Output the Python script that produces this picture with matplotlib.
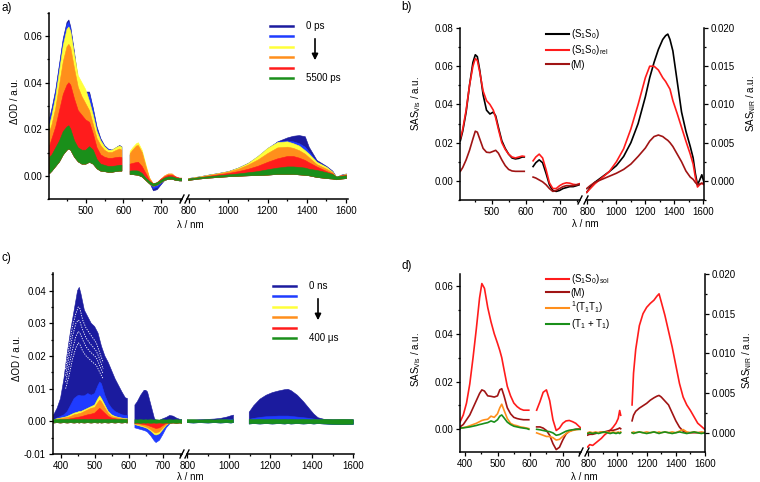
import numpy as np
import matplotlib
matplotlib.use('Agg')
import matplotlib.pyplot as plt
from matplotlib.ticker import MultipleLocator, FormatStrFormatter
from matplotlib.lines import Line2D

plt.rcParams['font.family'] = ['Liberation Sans', 'DejaVu Sans']
plt.rcParams['mathtext.fontset'] = 'custom'
plt.rcParams['mathtext.rm'] = 'Liberation Sans'
plt.rcParams['mathtext.it'] = 'Liberation Sans:italic'
plt.rcParams['mathtext.bf'] = 'Liberation Sans:bold'
plt.rcParams['font.size'] = 7

nan = np.nan

NAVY = '#1b1b9e'
BLUE = '#1f3cff'
YELLOW = '#ffff3a'
ORANGE = '#ff8f1c'
RED = '#ff1c1c'
GREEN = '#1a8f1a'
DKRED = '#a01414'

# ---------------- panel a : ps transient absorption ----------------
a_wl_vis = [404, 410, 420, 430, 440, 450, 455, 460, 470, 480, 490, 500, 510, 520, 530, 540, 550, 560, 570, 580, 590, 596, nan,
            618, 625, 635, 640, 650, 660, 670, 680, 690, 700, 710, 720, 730, 740, 750, 756]
a_navy_vis = [0.025, 0.029, 0.037, 0.048, 0.059, 0.066, 0.067, 0.064, 0.053, 0.041, 0.037, 0.036, 0.036, 0.029, 0.021, 0.016, 0.013, 0.0115, 0.011, 0.012, 0.013, 0.0125, nan,
              0.009, 0.010, 0.012, 0.0125, 0.010, 0.004, -0.003, -0.0065, -0.006, -0.004, -0.002, -0.0015, -0.0015, -0.002, -0.0022, -0.0022]
a_blue_vis = [0.024, 0.028, 0.036, 0.047, 0.058, 0.065, 0.066, 0.063, 0.052, 0.041, 0.037, 0.036, 0.035, 0.028, 0.020, 0.0155, 0.0128, 0.0113, 0.011, 0.0118, 0.0128, 0.0123, nan,
              0.009, 0.010, 0.012, 0.0125, 0.010, 0.004, -0.0025, -0.0055, -0.005, -0.0035, -0.0018, -0.0012, -0.0012, -0.0018, -0.002, -0.002]
a_yellow_vis = [0.022, 0.026, 0.034, 0.045, 0.056, 0.063, 0.064, 0.062, 0.052, 0.043, 0.040, 0.037, 0.032, 0.026, 0.019, 0.015, 0.0125, 0.011, 0.011, 0.012, 0.0128, 0.0123, nan,
                0.0105, 0.012, 0.0138, 0.0142, 0.011, 0.005, -0.001, -0.004, -0.0035, -0.002, -0.0005, 0.000, 0.0002, -0.001, -0.0015, -0.0015]
a_orange_vis = [0.019, 0.022, 0.029, 0.039, 0.049, 0.0555, 0.0565, 0.055, 0.046, 0.038, 0.034, 0.031, 0.028, 0.022, 0.016, 0.013, 0.011, 0.010, 0.010, 0.0108, 0.0115, 0.011, nan,
                0.0095, 0.011, 0.0128, 0.013, 0.010, 0.004, -0.001, -0.0035, -0.003, -0.0015, 0.000, 0.0008, 0.0008, -0.0005, -0.0012, -0.0012]
a_red_vis = [0.013, 0.016, 0.021, 0.028, 0.035, 0.039, 0.040, 0.039, 0.033, 0.028, 0.026, 0.024, 0.023, 0.018, 0.012, 0.009, 0.008, 0.0075, 0.0075, 0.0078, 0.008, 0.0078, nan,
             0.005, 0.0053, 0.0057, 0.0058, 0.004, 0.001, -0.002, -0.0035, -0.003, -0.0015, -0.0005, 0.0002, 0.0002, -0.0005, -0.001, -0.001]
a_green_hi_vis = [0.008, 0.009, 0.012, 0.015, 0.019, 0.021, 0.0215, 0.020, 0.015, 0.012, 0.011, 0.011, 0.0125, 0.011, 0.007, 0.005, 0.0045, 0.004, 0.004, 0.0042, 0.0045, 0.0045, nan,
                  0.002, 0.0021, 0.0021, 0.002, 0.001, -0.001, -0.0025, -0.0035, -0.003, -0.002, -0.001, -0.0005, -0.0005, -0.001, -0.0012, -0.0012]
a_green_lo_vis = [0.001, 0.002, 0.004, 0.006, 0.009, 0.011, 0.0115, 0.011, 0.008, 0.006, 0.005, 0.005, 0.0058, 0.005, 0.003, 0.002, 0.0018, 0.0015, 0.0015, 0.0018, 0.002, 0.002, nan,
                  0.0005, 0.0005, 0.0003, 0.0002, -0.0005, -0.002, -0.0035, -0.0045, -0.004, -0.003, -0.002, -0.0015, -0.0015, -0.002, -0.0022, -0.0022]

a_wl_nir = [795, 850, 900, 950, 1000, 1050, 1100, 1150, 1200, 1250, 1300, 1330, 1360, 1390, 1410, 1450, 1500, 1530, 1550, 1575, 1600]
a_navy_nir = [-0.001, -0.0003, 0.0005, 0.0012, 0.002, 0.0035, 0.0055, 0.008, 0.0115, 0.0148, 0.0165, 0.0172, 0.0175, 0.017, 0.0125, 0.0068, 0.0042, 0.0022, -0.0005, 0.0005, 0.001]
a_blue_nir = [-0.001, -0.0003, 0.0005, 0.0012, 0.002, 0.0035, 0.0055, 0.0085, 0.012, 0.0147, 0.0152, 0.0148, 0.014, 0.0125, 0.0105, 0.0062, 0.0039, 0.0019, -0.0005, 0.0004, 0.0008]
a_yellow_nir = [-0.001, -0.0003, 0.0005, 0.0012, 0.002, 0.0035, 0.0055, 0.0085, 0.012, 0.0145, 0.0148, 0.014, 0.013, 0.011, 0.0095, 0.006, 0.0038, 0.0018, -0.0005, 0.0004, 0.0008]
a_orange_nir = [-0.0012, -0.0005, 0.0003, 0.001, 0.0018, 0.003, 0.0048, 0.007, 0.0098, 0.0122, 0.0125, 0.012, 0.011, 0.0095, 0.008, 0.005, 0.003, 0.0015, -0.0005, 0.0003, 0.0006]
a_red_nir = [-0.0012, -0.0006, 0.0, 0.0006, 0.0012, 0.002, 0.003, 0.0043, 0.006, 0.0075, 0.0085, 0.0085, 0.0078, 0.0068, 0.0058, 0.004, 0.002, 0.001, -0.0005, 0.0002, 0.0005]
a_green_hi_nir = [-0.0012, -0.0006, -0.0002, 0.0002, 0.0006, 0.001, 0.0015, 0.002, 0.0028, 0.0035, 0.004, 0.004, 0.0038, 0.0035, 0.003, 0.0025, 0.0015, 0.0008, -0.0003, 0.0, 0.0002]
a_green_lo_nir = [-0.0018, -0.0012, -0.0008, -0.0005, -0.0002, 0.0, 0.0002, 0.0003, 0.0005, 0.0008, 0.0008, 0.0008, 0.0006, 0.0004, 0.0002, -0.0005, -0.001, -0.0012, -0.0015, -0.0012, -0.001]

# ---------------- panel b : species associated spectra (ps) ----------------
b_wl_vis = [408, 415, 425, 435, 445, 452, 458, 465, 475, 485, 495, 505, 512, 520, 530, 540, 550, 560, 570, 580, 590, 596, nan,
            622, 630, 640, 650, 660, 670, 680, 690, 700, 710, 720, 730, 740, 750, 758]
b_s1s0_vis = [0.021, 0.026, 0.036, 0.050, 0.062, 0.066, 0.065, 0.058, 0.045, 0.037, 0.035, 0.036, 0.034, 0.028, 0.021, 0.017, 0.014, 0.012, 0.0115, 0.0118, 0.0125, 0.0125, nan,
              0.0075, 0.0095, 0.011, 0.0095, 0.004, -0.002, -0.005, -0.0055, -0.005, -0.004, -0.0035, -0.003, -0.003, -0.0025, -0.002]
b_rel_vis = [0.022, 0.027, 0.037, 0.050, 0.060, 0.064, 0.063, 0.057, 0.047, 0.042, 0.040, 0.037, 0.033, 0.027, 0.020, 0.0165, 0.014, 0.0125, 0.012, 0.0125, 0.013, 0.0128, nan,
             0.0105, 0.0125, 0.014, 0.012, 0.006, -0.001, -0.004, -0.004, -0.0025, -0.0015, -0.001, -0.0012, -0.0018, -0.002, -0.0015]
b_m_vis = [0.005, 0.007, 0.011, 0.016, 0.022, 0.026, 0.0255, 0.022, 0.017, 0.015, 0.0148, 0.0155, 0.016, 0.0145, 0.011, 0.008, 0.006, 0.0052, 0.005, 0.005, 0.005, 0.005, nan,
           0.002, 0.0015, 0.0005, -0.0005, -0.002, -0.004, -0.0055, -0.005, -0.004, -0.003, -0.0025, -0.0025, -0.0025, -0.002, -0.0018]

b_wl_nir = [795, 820, 850, 900, 950, 1000, 1050, 1100, 1150, 1200, 1230, 1260, 1290, 1320, 1340, 1355, 1370, 1390, 1420, 1450, 1480, 1510, 1530, 1545, 1560, 1575, 1590, 1605]
b_s1s0_nir = [-0.0015, -0.0008, -0.0002, 0.0005, 0.0012, 0.002, 0.0032, 0.005, 0.0075, 0.011, 0.0135, 0.0155, 0.0172, 0.0185, 0.019, 0.0192, 0.0185, 0.017, 0.013, 0.009, 0.0065, 0.0045, 0.003, 0.001, -0.0005, 0.0001, 0.0008, -0.0002]
b_rel_nir = [-0.0015, -0.001, -0.0004, 0.0004, 0.0012, 0.0025, 0.0042, 0.0068, 0.010, 0.0135, 0.015, 0.015, 0.0145, 0.0135, 0.013, 0.0125, 0.012, 0.0105, 0.0088, 0.007, 0.0052, 0.0035, 0.0022, 0.0005, -0.0008, -0.0005, -0.0003, -0.0005]
b_m_nir = [-0.001, -0.0006, -0.0002, 0.0002, 0.0006, 0.001, 0.0015, 0.0022, 0.0032, 0.0043, 0.0052, 0.0058, 0.006, 0.0058, 0.0055, 0.0053, 0.005, 0.0045, 0.0035, 0.0025, 0.0013, 0.0005, 0.0002, -0.0002, -0.0005, -0.0004, -0.0003, -0.0004]

# ---------------- panel c : ns-us transient absorption ----------------
c_wl_vis = [380, 390, 400, 410, 420, 430, 440, 450, 455, 460, 470, 480, 490, 500, 510, 515, 520, 530, 540, 550, 560, 570, 580, 590, 596, nan,
            618, 625, 635, 645, 650, 655, 665, 675, 680, 690, 700, 710, 720, 730, 740, 750, 756]
c_navy_vis = [0.002, 0.004, 0.007, 0.013, 0.021, 0.028, 0.034, 0.040, 0.041, 0.039, 0.034, 0.032, 0.030, 0.029, 0.027, 0.025, 0.023, 0.020, 0.018, 0.0155, 0.013, 0.011, 0.009, 0.0072, 0.007, nan,
              0.005, 0.006, 0.008, 0.0095, 0.0095, 0.009, 0.005, 0.001, 0.0002, 0.0003, 0.0008, 0.0012, 0.0018, 0.0016, 0.001, 0.0006, 0.0005]
c_blue_vis = [0.0005, 0.001, 0.0015, 0.002, 0.003, 0.005, 0.007, 0.0078, 0.008, 0.0078, 0.0078, 0.0085, 0.008, 0.0085, 0.011, 0.012, 0.0115, 0.008, 0.0055, 0.004, 0.003, 0.0025, 0.002, 0.0018, 0.0018, nan,
              -0.002, -0.0022, -0.0025, -0.0028, -0.003, -0.0033, -0.0045, -0.006, -0.0065, -0.0058, -0.004, -0.002, -0.0008, -0.0004, -0.0003, -0.0002, -0.0002]
c_yellow_vis = [0.0005, 0.0008, 0.001, 0.0012, 0.0015, 0.002, 0.0025, 0.0028, 0.003, 0.003, 0.0035, 0.004, 0.0045, 0.005, 0.007, 0.0078, 0.007, 0.005, 0.003, 0.002, 0.0015, 0.0012, 0.001, 0.0008, 0.0008, nan,
                -0.001, -0.0012, -0.0015, -0.0018, -0.002, -0.0022, -0.003, -0.004, -0.0042, -0.0038, -0.0025, -0.0012, -0.0005, -0.0002, -0.0001, 0.0, 0.0]
c_orange_vis = [0.0004, 0.0006, 0.0008, 0.001, 0.0012, 0.0015, 0.002, 0.0022, 0.0024, 0.0025, 0.003, 0.0035, 0.004, 0.0042, 0.0058, 0.0065, 0.006, 0.0042, 0.0025, 0.0015, 0.0012, 0.001, 0.0008, 0.0006, 0.0006, nan,
                -0.0008, -0.001, -0.0012, -0.0015, -0.0017, -0.0019, -0.0026, -0.0034, -0.0036, -0.0032, -0.002, -0.001, -0.0004, -0.0002, -0.0001, 0.0, 0.0]
c_red_vis = [0.0002, 0.0003, 0.0004, 0.0005, 0.0006, 0.0008, 0.001, 0.0012, 0.0013, 0.0014, 0.0017, 0.002, 0.0022, 0.0025, 0.0035, 0.004, 0.0035, 0.0025, 0.0015, 0.001, 0.0008, 0.0006, 0.0005, 0.0004, 0.0004, nan,
             -0.0005, -0.0006, -0.0008, -0.001, -0.0011, -0.0012, -0.0016, -0.002, -0.0022, -0.002, -0.0013, -0.0006, -0.0003, -0.0001, 0.0, 0.0, 0.0]
c_green_hi_vis = [0.0006, 0.0005, 0.0006, 0.0005, 0.0006, 0.0005, 0.0006, 0.0005, 0.0006, 0.0005, 0.0006, 0.0005, 0.0006, 0.0005, 0.0006, 0.0005, 0.0006, 0.0005, 0.0006, 0.0005, 0.0006, 0.0005, 0.0006, 0.0005, 0.0006, nan,
                  0.0005, 0.0004, 0.0005, 0.0004, 0.0005, 0.0004, 0.0005, 0.0004, 0.0005, 0.0004, 0.0005, 0.0004, 0.0005, 0.0004, 0.0005, 0.0004, 0.0005]
c_green_lo_vis = [-0.0005, -0.0004, -0.0005, -0.0004, -0.0005, -0.0004, -0.0005, -0.0004, -0.0005, -0.0004, -0.0005, -0.0004, -0.0005, -0.0004, -0.0005, -0.0004, -0.0005, -0.0004, -0.0005, -0.0004, -0.0005, -0.0004, -0.0005, -0.0004, -0.0005, nan,
                  -0.0006, -0.0005, -0.0006, -0.0005, -0.0006, -0.0005, -0.0006, -0.0005, -0.0006, -0.0005, -0.0006, -0.0005, -0.0006, -0.0005, -0.0006, -0.0005, -0.0006]
# a few intermediate early spectra (gaps between them show as white streaks)
c_wl_mid = [415, 425, 435, 445, 452, 457, 465, 475, 485, 495, 505, 515, 525]
c_mid1 = [0.016, 0.023, 0.029, 0.033, 0.035, 0.0345, 0.031, 0.0285, 0.027, 0.0255, 0.024, 0.021, 0.018]
c_mid2 = [0.014, 0.020, 0.026, 0.030, 0.031, 0.0305, 0.028, 0.0255, 0.024, 0.0228, 0.0215, 0.019, 0.016]
c_mid3 = [0.012, 0.017, 0.022, 0.026, 0.0275, 0.027, 0.025, 0.0228, 0.0215, 0.0205, 0.0195, 0.017, 0.0145]
c_mid4 = [0.010, 0.014, 0.019, 0.0225, 0.024, 0.0235, 0.0215, 0.020, 0.019, 0.018, 0.0172, 0.015, 0.013]

c_wl_nir = [798, 830, 860, 900, 930, 960, 990, 1010, 1022, nan,
            1098, 1120, 1150, 1180, 1210, 1240, 1270, 1285, 1300, 1330, 1360, 1390, 1410, 1430, 1460, 1500, 1550, 1600]
c_navy_nir = [0.0004, 0.0004, 0.0005, 0.0006, 0.0007, 0.0009, 0.0013, 0.0017, 0.0019, nan,
              0.0028, 0.0048, 0.0068, 0.008, 0.0088, 0.0093, 0.0097, 0.0098, 0.0094, 0.008, 0.006, 0.0037, 0.0022, 0.0011, 0.0006, 0.0005, 0.0005, 0.0005]
c_blue_nir = [0.0002, 0.0002, 0.0002, 0.0003, 0.0003, 0.0004, 0.0005, 0.0006, 0.0006, nan,
              0.0006, 0.0009, 0.0012, 0.0014, 0.0015, 0.0016, 0.0016, 0.0016, 0.0015, 0.0013, 0.0011, 0.0009, 0.0007, 0.0005, 0.0004, 0.0003, 0.0003, 0.0003]
c_green_hi_nir = [0.0005, 0.0005, 0.0004, 0.0005, 0.0004, 0.0005, 0.0005, 0.0004, 0.0005, nan,
                  0.0006, 0.0005, 0.0006, 0.0005, 0.0006, 0.0005, 0.0006, 0.0005, 0.0006, 0.0005, 0.0006, 0.0005, 0.0006, 0.0005, 0.0006, 0.0005, 0.0006, 0.0005]
c_green_lo_nir = [-0.0004, -0.0005, -0.0004, -0.0005, -0.0004, -0.0005, -0.0004, -0.0005, -0.0004, nan,
                  -0.0008, -0.0007, -0.0008, -0.0007, -0.0008, -0.0007, -0.0008, -0.0007, -0.0008, -0.0007, -0.0008, -0.0007, -0.0008, -0.0007, -0.0008, -0.0009, -0.001, -0.0009]

# ---------------- panel d : species associated spectra (ns-us) ----------------
d_wl_vis = [385, 395, 405, 415, 425, 435, 445, 452, 460, 470, 480, 490, 500, 507, 513, 520, 530, 540, 550, 560, 570, 580, 590, 596, nan,
            620, 630, 640, 650, 660, 670, 680, 690, 700, 710, 720, 730, 740, 750, 756]
d_sol_vis = [0.003, 0.006, 0.011, 0.019, 0.030, 0.042, 0.055, 0.061, 0.059, 0.051, 0.045, 0.040, 0.036, 0.033, 0.030, 0.025, 0.018, 0.014, 0.011, 0.0095, 0.0085, 0.008, 0.008, 0.008, nan,
             0.008, 0.0115, 0.0155, 0.0165, 0.012, 0.004, -0.0005, 0.0005, 0.0025, 0.0035, 0.0037, 0.0032, 0.0025, 0.0012, 0.0005]
d_m_vis = [0.001, 0.002, 0.004, 0.006, 0.009, 0.012, 0.015, 0.0165, 0.016, 0.014, 0.0138, 0.0135, 0.014, 0.0165, 0.017, 0.014, 0.009, 0.0065, 0.005, 0.0045, 0.0042, 0.004, 0.004, 0.004, nan,
           0.001, 0.001, 0.0005, -0.0005, -0.0025, -0.006, -0.0085, -0.0075, -0.0045, -0.002, -0.0008, -0.0003, 0.0, 0.0002, 0.0002]
d_tt_vis = [0.0005, 0.0007, 0.001, 0.0015, 0.002, 0.0025, 0.0032, 0.0037, 0.004, 0.0042, 0.0055, 0.005, 0.0065, 0.009, 0.0105, 0.008, 0.0045, 0.0025, 0.0018, 0.0015, 0.001, 0.0008, 0.0005, 0.0003, nan,
            -0.0015, -0.002, -0.0025, -0.003, -0.003, -0.0035, -0.0045, -0.0042, -0.003, -0.0018, -0.001, -0.0005, -0.0002, 0.0, 0.0]
d_t1_vis = [0.0005, 0.0006, 0.0008, 0.001, 0.0013, 0.0016, 0.002, 0.0022, 0.0025, 0.0028, 0.0035, 0.003, 0.004, 0.0055, 0.006, 0.0048, 0.003, 0.002, 0.0013, 0.001, 0.0007, 0.0005, 0.0003, 0.0, nan,
            0.0, -0.0002, -0.0005, -0.0008, -0.001, -0.0015, -0.0025, -0.0022, -0.0015, -0.0008, -0.0004, -0.0002, 0.0, 0.0, 0.0]

d_wl_nir = [795, 810, 830, 850, 870, 890, 910, 930, 950, 970, 990, 1005, 1015, 1022, nan,
            1100, 1110, 1125, 1150, 1175, 1200, 1225, 1250, 1270, 1285, 1300, 1325, 1350, 1375, 1400, 1425, 1450, 1475, 1500, 1525, 1550, 1575, 1600]
d_sol_nir = [-0.0018, -0.0015, -0.0016, -0.0013, -0.001, -0.0007, -0.0003, 0.0, 0.0003, 0.0007, 0.0012, 0.0018, 0.0028, 0.0022, nan,
             0.0035, 0.0075, 0.0105, 0.0135, 0.015, 0.0158, 0.0163, 0.0167, 0.0172, 0.0175, 0.0165, 0.0148, 0.0128, 0.0108, 0.0085, 0.0062, 0.0045, 0.0035, 0.0028, 0.002, 0.0012, 0.0008, 0.0004]
d_m_nir = [-0.0003, -0.0002, -0.0002, -0.0001, 0.0, 0.0001, 0.0001, 0.0002, 0.0003, 0.0003, 0.0004, 0.0005, 0.0006, 0.0005, nan,
           0.0015, 0.0022, 0.0027, 0.0031, 0.0034, 0.0037, 0.0041, 0.0044, 0.0046, 0.0047, 0.0045, 0.004, 0.0035, 0.0025, 0.0015, 0.0007, 0.0002, 0.0, 0.0, 0.0, 0.0, 0.0, 0.0]
d_tt_nir = [0.0, 0.0001, 0.0, 0.0001, 0.0, 0.0001, 0.0, 0.0001, 0.0, 0.0001, 0.0, 0.0001, 0.0, 0.0001, nan,
            0.0, 0.0001, 0.0, 0.0001, 0.0, 0.0001, 0.0, 0.0001, 0.0, 0.0001, 0.0, 0.0001, 0.0, 0.0001, 0.0, 0.0002, 0.0004, 0.0001, 0.0, 0.0001, 0.0, 0.0001, 0.0]
d_t1_nir = [-0.0001, 0.0, -0.0001, 0.0, -0.0001, 0.0, 0.0001, 0.0, -0.0001, 0.0, -0.0001, 0.0, -0.0001, 0.0, nan,
            0.0, -0.0001, 0.0, 0.0001, 0.0, -0.0001, 0.0, 0.0001, 0.0, -0.0001, 0.0, 0.0001, 0.0, -0.0001, 0.0, 0.0001, 0.0, -0.0001, 0.0, 0.0001, 0.0, -0.0001, 0.0]

W, H = 760, 482
fig = plt.figure(figsize=(W / 100, H / 100), dpi=100)


def rect(x0, x1, y0, y1):
    # pixel box (top-left origin) -> figure fraction
    return [x0 / W, 1 - y1 / H, (x1 - x0) / W, (y1 - y0) / H]


def panel(lx, rx, y0, y1, xlim_l, xlim_r, ylim_l, ylim_r=None, left_fmt='%.2f', right_fmt='%.3f',
          ymaj=0.02, ymin=0.01, ymaj_r=0.005, ymin_r=0.0025):
    axl = fig.add_axes(rect(lx[0], lx[1], y0, y1))
    axr = fig.add_axes(rect(rx[0], rx[1], y0, y1))
    axl.set_xlim(xlim_l)
    axr.set_xlim(xlim_r)
    axl.set_ylim(ylim_l)
    axr.set_ylim(ylim_r if ylim_r else ylim_l)
    for ax in (axl, axr):
        ax.patch.set_alpha(0)
        ax.spines['top'].set_visible(False)
        for s in ax.spines.values():
            s.set_linewidth(1.1)
        ax.tick_params(which='both', direction='out', labelsize=7, width=0.9, pad=2)
        ax.tick_params(which='major', length=3)
        ax.tick_params(which='minor', length=1.6)
    axl.spines['right'].set_visible(False)
    axr.spines['left'].set_visible(False)
    axl.xaxis.set_major_locator(MultipleLocator(100))
    axl.xaxis.set_minor_locator(MultipleLocator(50))
    axr.xaxis.set_major_locator(MultipleLocator(200))
    axr.xaxis.set_minor_locator(MultipleLocator(100))
    axl.yaxis.set_major_locator(MultipleLocator(ymaj))
    axl.yaxis.set_minor_locator(MultipleLocator(ymin))
    axl.yaxis.set_major_formatter(FormatStrFormatter(left_fmt))
    if ylim_r is None:
        axr.spines['right'].set_visible(False)
        axr.tick_params(axis='y', which='both', left=False, right=False, labelleft=False)
    else:
        axr.yaxis.tick_right()
        axr.yaxis.set_major_locator(MultipleLocator(ymaj_r))
        axr.yaxis.set_minor_locator(MultipleLocator(ymin_r))
        axr.yaxis.set_major_formatter(FormatStrFormatter(right_fmt))
    # axis break marks
    for x in (lx[1], rx[0]):
        fig.add_artist(Line2D([(x - 2) / W, (x + 2) / W], [1 - (y1 + 4) / H, 1 - (y1 - 4) / H],
                              color='k', lw=1.0))
    return axl, axr


def bands(ax, wl, series, base):
    for color, y in series:
        ax.fill_between(wl, y, base, color=color, lw=0.4, edgecolor=color)


def ladder_legend(ax, x, y, first, last):
    cols = [NAVY, BLUE, YELLOW, ORANGE, RED, GREEN]
    handles = [Line2D([], [], color=c, lw=1.8) for c in cols]
    labels = [first, ' ', ' ', ' ', ' ', last]
    ax.legend(handles, labels, loc='upper left', bbox_to_anchor=(x / W, 1 - y / H),
              bbox_transform=fig.transFigure, frameon=False, borderpad=0, borderaxespad=0,
              handlelength=2.4, handletextpad=1.3, labelspacing=0.05, fontsize=7)


# ---- a)
ax_al, ax_ar = panel((49, 182), (187, 348), 13, 199, (402, 756), (790, 1610), (-0.01, 0.07))
bands(ax_al, a_wl_vis, [(NAVY, a_navy_vis), (BLUE, a_blue_vis), (YELLOW, a_yellow_vis),
                        (ORANGE, a_orange_vis), (RED, a_red_vis), (GREEN, a_green_hi_vis)], a_green_lo_vis)
bands(ax_ar, a_wl_nir, [(NAVY, a_navy_nir), (BLUE, a_blue_nir), (YELLOW, a_yellow_nir),
                        (ORANGE, a_orange_nir), (RED, a_red_nir), (GREEN, a_green_hi_nir)], a_green_lo_nir)
ladder_legend(ax_ar, 270, 21, '0 ps', '5500 ps')
fig.add_artist(matplotlib.patches.FancyArrowPatch((315 / W, 1 - 36 / H), (315 / W, 1 - 63 / H),
                                                  transform=fig.transFigure, arrowstyle='-|>',
                                                  mutation_scale=9, color='k', lw=1.2))

# ---- b)
ax_bl, ax_br = panel((460, 580), (586, 704), 28, 200, (407, 760), (790, 1605), (-0.01, 0.08), (-0.0025, 0.02))
for y_vis, y_nir, c in [(b_s1s0_vis, b_s1s0_nir, 'black'), (b_rel_vis, b_rel_nir, RED), (b_m_vis, b_m_nir, DKRED)]:
    ax_bl.plot(b_wl_vis, y_vis, color=c, lw=1.2)
    ax_br.plot(b_wl_nir, y_nir, color=c, lw=1.2)
hb = [Line2D([], [], color=c, lw=1.5) for c in ('black', RED, DKRED)]
ax_br.legend(hb, [r'(S$_1$S$_0$)', r'(S$_1$S$_0$)$_{\mathrm{rel}}$', '(M)'], loc='upper left',
             bbox_to_anchor=(546 / W, 1 - 27 / H), bbox_transform=fig.transFigure, frameon=False,
             borderpad=0, borderaxespad=0, handlelength=2.35, handletextpad=0.2, labelspacing=0.25, fontsize=7)

# ---- c)
ax_cl, ax_cr = panel((53, 182), (187, 354), 273, 454, (378, 756), (798, 1603), (-0.01, 0.0454),
                     ymaj=0.01, ymin=0.005)
bands(ax_cl, c_wl_vis, [(NAVY, c_navy_vis)], c_green_lo_vis)
for y_mid in (c_mid1, c_mid2, c_mid3, c_mid4):
    ax_cl.plot(c_wl_mid, y_mid, color='white', lw=0.6, ls=(0, (1.5, 1.5)))
bands(ax_cl, c_wl_vis, [(BLUE, c_blue_vis), (YELLOW, c_yellow_vis), (ORANGE, c_orange_vis),
                        (RED, c_red_vis), (GREEN, c_green_hi_vis)], c_green_lo_vis)
bands(ax_cr, c_wl_nir, [(NAVY, c_navy_nir), (BLUE, c_blue_nir), (GREEN, c_green_hi_nir)], c_green_lo_nir)
ladder_legend(ax_cr, 273, 281, '0 ns', '400 μs')
fig.add_artist(matplotlib.patches.FancyArrowPatch((318 / W, 1 - 296 / H), (318 / W, 1 - 323 / H),
                                                  transform=fig.transFigure, arrowstyle='-|>',
                                                  mutation_scale=9, color='k', lw=1.2))

# ---- d)
ax_dl, ax_dr = panel((460, 581), (587, 705), 274, 452, (385, 756), (791, 1600), (-0.0095, 0.065), (-0.00243, 0.02))
for y_vis, y_nir, c in [(d_sol_vis, d_sol_nir, RED), (d_m_vis, d_m_nir, DKRED),
                        (d_tt_vis, d_tt_nir, ORANGE), (d_t1_vis, d_t1_nir, GREEN)]:
    ax_dl.plot(d_wl_vis, y_vis, color=c, lw=1.2)
    ax_dr.plot(d_wl_nir, y_nir, color=c, lw=1.2)
hd = [Line2D([], [], color=c, lw=1.5) for c in (RED, DKRED, ORANGE, GREEN)]
ax_dr.legend(hd, [r'(S$_1$S$_0$)$_{\mathrm{sol}}$', '(M)', r'$^1$(T$_1$T$_1$)', r'(T$_1$ + T$_1$)'],
             loc='upper left', bbox_to_anchor=(546 / W, 1 - 272 / H), bbox_transform=fig.transFigure,
             frameon=False, borderpad=0, borderaxespad=0, handlelength=2.35, handletextpad=0.2,
             labelspacing=0.18, fontsize=7)

# ---- panel letters and axis titles
for x, y, t in [(1, 8, 'a)'), (401, 7, 'b)'), (1, 258, 'c)'), (401, 266, 'd)')]:
    fig.text(x / W, 1 - y / H, t, fontsize=8.5, ha='left', va='center')
for x, y in [(190, 225), (585, 224), (190, 477), (584, 477)]:
    fig.text(x / W, 1 - y / H, 'λ / nm', fontsize=7, ha='center', va='center')
for x, y, t in [(15, 101, 'ΔOD / a.u.'), (17, 358, 'ΔOD / a.u.'),
                (416, 104, r'SAS$_{\mathrm{Vis}}$ / a.u.'), (416, 360, r'SAS$_{\mathrm{Vis}}$ / a.u.'),
                (751, 103, r'SAS$_{\mathrm{NIR}}$ / a.u.'), (747, 360, r'SAS$_{\mathrm{NIR}}$ / a.u.')]:
    fig.text(x / W, 1 - y / H, t, fontsize=7, rotation=90, ha='center', va='center')

fig.savefig('out.png', dpi=100)
